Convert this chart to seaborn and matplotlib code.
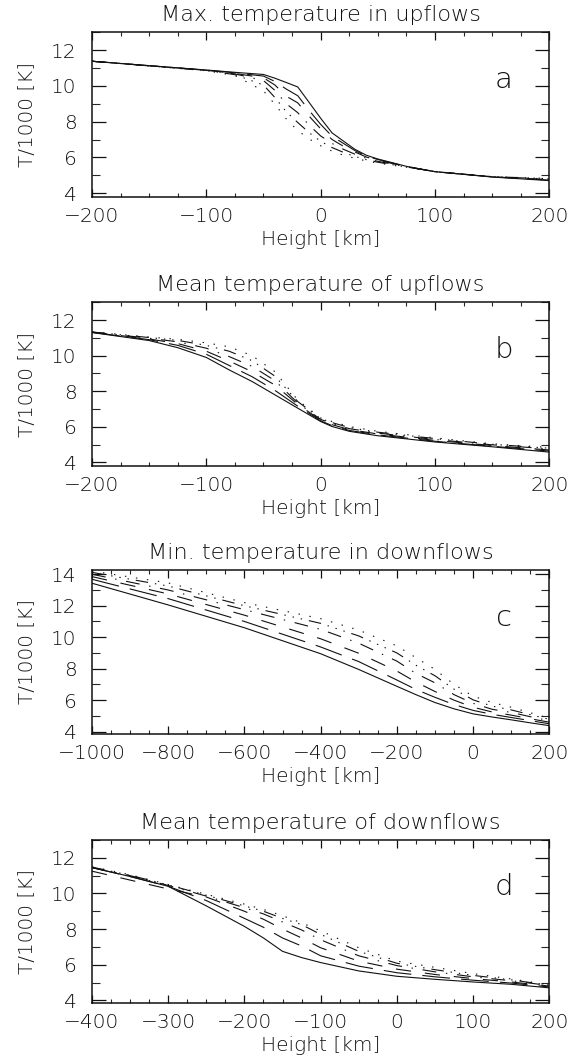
import matplotlib
matplotlib.use("Agg")
import matplotlib.pyplot as plt
from matplotlib.ticker import MultipleLocator
import pandas as pd
import seaborn as sns

# ---------------------------------------------------------------- data
runs = ["r1", "r2", "r3", "r4", "r5", "r6"]

# (a) maximum temperature in upflows, T/1000 [K]
heights_a = [-200, -100, -75, -50, -40, -30, -20, -10, 0, 10, 20, 30, 40, 50, 75, 100, 150, 200]
a_r1 = [11.38, 10.89, 10.76, 10.64, 10.43, 10.19, 9.94, 9.07, 8.19, 7.37, 6.91, 6.45, 6.12, 5.91, 5.50, 5.20, 4.90, 4.70]
a_r2 = [11.38, 10.88, 10.73, 10.55, 10.25, 9.82, 9.45, 8.62, 7.85, 7.18, 6.78, 6.38, 6.07, 5.88, 5.49, 5.20, 4.91, 4.73]
a_r3 = [11.38, 10.88, 10.70, 10.45, 10.05, 9.42, 9.05, 8.30, 7.60, 7.00, 6.62, 6.30, 6.02, 5.84, 5.48, 5.20, 4.91, 4.76]
a_r4 = [11.38, 10.87, 10.67, 10.30, 9.75, 9.00, 8.50, 7.80, 7.20, 6.78, 6.45, 6.18, 5.95, 5.78, 5.47, 5.20, 4.92, 4.79]
a_r5 = [11.38, 10.86, 10.63, 10.05, 9.35, 8.55, 7.95, 7.38, 6.90, 6.55, 6.28, 6.05, 5.87, 5.73, 5.46, 5.21, 4.92, 4.81]
a_r6 = [11.38, 10.85, 10.58, 9.72, 8.97, 8.15, 7.50, 7.03, 6.65, 6.35, 6.12, 5.95, 5.80, 5.68, 5.45, 5.21, 4.92, 4.82]

# (b) mean temperature of upflows
heights_b = [-200, -150, -125, -100, -80, -60, -40, -20, 0, 10, 25, 50, 100, 150, 200]
b_r1 = [11.30, 10.85, 10.45, 9.90, 9.20, 8.55, 7.80, 7.05, 6.30, 6.02, 5.75, 5.50, 5.15, 4.88, 4.58]
b_r2 = [11.31, 10.90, 10.58, 10.08, 9.45, 8.82, 8.05, 7.16, 6.34, 6.07, 5.80, 5.55, 5.19, 4.91, 4.64]
b_r3 = [11.32, 10.94, 10.68, 10.25, 9.70, 9.10, 8.35, 7.26, 6.38, 6.12, 5.85, 5.60, 5.24, 4.95, 4.70]
b_r4 = [11.33, 10.98, 10.78, 10.42, 9.95, 9.40, 8.60, 7.34, 6.42, 6.18, 5.90, 5.65, 5.29, 4.99, 4.76]
b_r5 = [11.33, 11.02, 10.86, 10.58, 10.25, 9.72, 8.85, 7.42, 6.46, 6.24, 5.96, 5.70, 5.34, 5.02, 4.80]
b_r6 = [11.34, 11.05, 10.92, 10.72, 10.50, 10.00, 9.10, 7.50, 6.50, 6.30, 6.02, 5.75, 5.38, 5.05, 4.84]

# (c) minimum temperature in downflows
heights_c = [-1000, -800, -600, -400, -300, -200, -150, -100, -50, 0, 50, 100, 150, 200]
c_r1 = [13.43, 12.05, 10.60, 8.95, 7.95, 6.88, 6.35, 5.85, 5.45, 5.13, 4.93, 4.75, 4.56, 4.38]
c_r2 = [13.68, 12.45, 11.00, 9.38, 8.45, 7.28, 6.68, 6.18, 5.72, 5.35, 5.10, 4.90, 4.70, 4.50]
c_r3 = [13.85, 12.75, 11.40, 9.90, 8.98, 7.85, 7.15, 6.55, 6.00, 5.55, 5.25, 5.05, 4.82, 4.60]
c_r4 = [14.00, 13.00, 11.75, 10.50, 9.62, 8.48, 7.70, 7.10, 6.35, 5.80, 5.42, 5.22, 4.95, 4.70]
c_r5 = [14.12, 13.25, 12.00, 10.88, 10.08, 9.00, 8.22, 7.55, 6.70, 6.02, 5.62, 5.38, 5.08, 4.78]
c_r6 = [14.20, 13.45, 12.20, 11.18, 10.45, 9.45, 8.70, 7.95, 7.00, 6.25, 5.85, 5.55, 5.20, 4.85]

# (d) mean temperature of downflows
heights_d = [-400, -350, -300, -250, -200, -175, -150, -125, -100, -50, 0, 50, 100, 150, 200]
d_r1 = [11.45, 10.95, 10.40, 9.30, 8.15, 7.50, 6.75, 6.40, 6.12, 5.65, 5.35, 5.18, 5.03, 4.90, 4.70]
d_r2 = [11.45, 10.95, 10.40, 9.60, 8.60, 8.10, 7.50, 7.05, 6.50, 5.92, 5.55, 5.32, 5.13, 4.97, 4.75]
d_r3 = [11.25, 10.75, 10.25, 9.80, 9.00, 8.55, 8.00, 7.50, 6.95, 6.20, 5.75, 5.45, 5.22, 5.03, 4.80]
d_r4 = [11.45, 11.00, 10.45, 9.85, 9.20, 8.85, 8.40, 7.95, 7.40, 6.50, 5.95, 5.60, 5.32, 5.10, 4.83]
d_r5 = [11.48, 11.02, 10.48, 9.90, 9.30, 9.00, 8.60, 8.25, 7.70, 6.75, 6.08, 5.72, 5.40, 5.15, 4.85]
d_r6 = [11.50, 11.05, 10.50, 9.95, 9.40, 9.10, 8.75, 8.35, 7.90, 6.95, 6.20, 5.85, 5.50, 5.20, 4.87]

titles = ["Max. temperature in upflows", "Mean temperature of upflows",
          "Min. temperature in downflows", "Mean temperature of downflows"]
panel_tags = ["a", "b", "c", "d"]
x_label = "Height [km]"
y_label = "T/1000 [K]"


def long_form(heights, *series):
    rows = []
    for run, vals in zip(runs, series):
        for h, t in zip(heights, vals):
            rows.append({"height": h, "T": t, "run": run})
    return pd.DataFrame(rows)


panels = [
    (long_form(heights_a, a_r1, a_r2, a_r3, a_r4, a_r5, a_r6), (-200, 200), (3.8, 13.0), 100, 25),
    (long_form(heights_b, b_r1, b_r2, b_r3, b_r4, b_r5, b_r6), (-200, 200), (3.8, 13.0), 100, 25),
    (long_form(heights_c, c_r1, c_r2, c_r3, c_r4, c_r5, c_r6), (-1000, 200), (3.85, 14.27), 200, 50),
    (long_form(heights_d, d_r1, d_r2, d_r3, d_r4, d_r5, d_r6), (-400, 200), (3.85, 13.0), 100, 25),
]

# ---------------------------------------------------------------- style
sns.set_theme(style="white")
plt.rcParams["font.family"] = ["DejaVu Sans"]
plt.rcParams["font.weight"] = "light"
plt.rcParams["lines.scale_dashes"] = False
plt.rcParams["axes.unicode_minus"] = True

line_dashes = {
    "r1": "",
    "r2": (20, 8),
    "r3": (11, 10),
    "r4": (10, 7, 1, 7),
    "r5": (9, 5, 1, 5, 1, 5, 1, 5),
    "r6": (1, 7),
}

fig = plt.figure(figsize=(5.71, 10.61), dpi=100)
W, H = 571.0, 1061.0
left_px, right_px = 92.0, 549.3
frames = [(32.3, 196.7), (302.3, 466.0), (570.0, 734.0), (840.0, 1003.0)]

ink = "#111111"
txt = dict(color=ink, fontweight="light")
for (df, xlim, ylim, xmaj, xmin), (top, bot), title, tag in zip(panels, frames, titles, panel_tags):
    ax = fig.add_axes([left_px / W, 1 - bot / H, (right_px - left_px) / W, (bot - top) / H])
    sns.lineplot(data=df, x="height", y="T", style="run", dashes=line_dashes,
                 color=ink, linewidth=0.8, estimator=None, legend=False, ax=ax)
    ax.set_xlim(*xlim)
    ax.set_ylim(*ylim)
    ax.xaxis.set_major_locator(MultipleLocator(xmaj))
    ax.xaxis.set_minor_locator(MultipleLocator(xmin))
    ax.yaxis.set_major_locator(MultipleLocator(2))
    ax.yaxis.set_minor_locator(MultipleLocator(1))
    ax.tick_params(axis="x", which="major", direction="in", length=5.8, width=0.9,
                   top=True, bottom=True, pad=7.5, labelsize=14.5, colors=ink)
    ax.tick_params(axis="x", which="minor", direction="in", length=3, width=0.8,
                   top=True, bottom=True)
    ax.tick_params(axis="y", which="major", direction="in", length=10, width=0.9,
                   left=True, right=True, pad=11, labelsize=14.5, colors=ink)
    ax.tick_params(axis="y", which="minor", direction="in", length=5.5, width=0.8,
                   left=True, right=True)
    for lab in ax.get_xticklabels() + ax.get_yticklabels():
        lab.set_fontweight("light")
    for sp in ax.spines.values():
        sp.set_linewidth(1.1)
        sp.set_color(ink)
    ax.set_xlabel(x_label, fontsize=14.5, **txt)
    ax.set_ylabel(y_label, fontsize=14.5, **txt)
    hpx = bot - top
    wpx = right_px - left_px
    ax.xaxis.set_label_coords(0.5, -(230 - 196.7) / hpx)
    ax.yaxis.set_label_coords(-(92 - 37) / wpx, 0.5)
    ax.set_title(title, fontsize=16, pad=8, **txt)
    ax.text(0.90, 0.66, tag, transform=ax.transAxes, ha="center", va="baseline",
            fontsize=21, **txt)
    ax.grid(False)

fig.savefig("out.png", dpi=100, facecolor="white")
